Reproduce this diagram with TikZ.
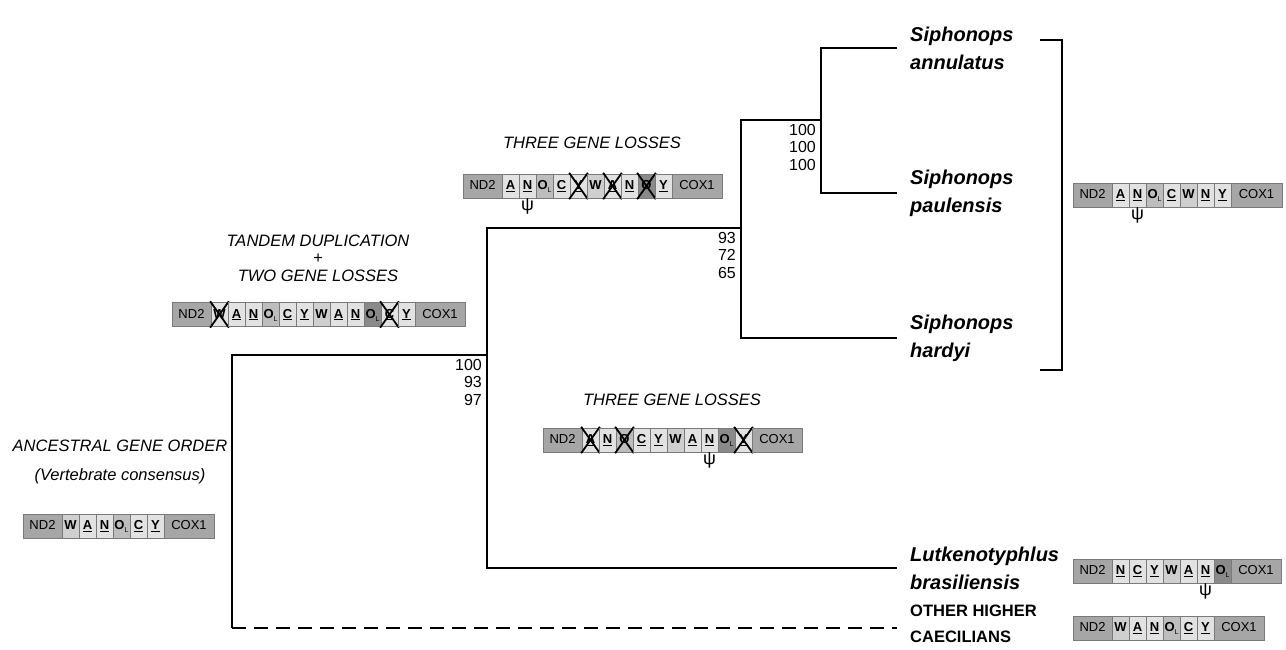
\documentclass[tikz,border=0pt]{standalone}
\usepackage{fontspec}
\setmainfont{Liberation Sans}
\definecolor{endc}{HTML}{A6A6A6}
\definecolor{lightc}{HTML}{E2E2E2}
\definecolor{wc}{HTML}{CFCFCF}
\definecolor{oc}{HTML}{BDBDBD}
\definecolor{darkc}{HTML}{8A8A8A}
\definecolor{cellline}{HTML}{7A7A7A}
\newcommand\subL{\raisebox{-3pt}{\fontsize{7}{7}\selectfont\mdseries L}}
\newcommand\ctkl[1]{\underline{#1}}
\newcommand\ctkw[1]{#1}
\newcommand\ctko[1]{O\subL}
\newcommand\ctkd[1]{O\subL}
\newcommand\ctkxl[1]{\underline{#1}}
\newcommand\ctkxw[1]{#1}
\newcommand\ctkxo[1]{O}
\newcommand\ctkxd[1]{O}
\tikzset{
  cellbase/.style={draw=cellline, line width=0.7pt, minimum height=24pt, inner sep=0pt, outer sep=0pt,
    text height=9.5pt, text depth=2.5pt, anchor=west},
  gc/.style={cellbase, minimum width=17pt, font=\fontsize{13}{13}\selectfont\bfseries},
  ec/.style={cellbase, fill=endc, font=\fontsize{13}{13}\selectfont},
  xline/.style={line width=1.8pt, draw=black, shorten <=-1.5pt, shorten >=-1.5pt},
  crossed/.style={append after command={(\tikzlastnode.north west) edge[xline] (\tikzlastnode.south east)
      (\tikzlastnode.north east) edge[xline] (\tikzlastnode.south west)}},
  kl/.style={fill=lightc}, kw/.style={fill=wc}, ko/.style={fill=oc}, kd/.style={fill=darkc},
  kxl/.style={fill=lightc, crossed}, kxw/.style={fill=lightc, crossed},
  kxo/.style={fill=oc, crossed}, kxd/.style={fill=darkc, crossed},
  psi/.style={anchor=north, inner sep=1pt, font=\fontsize{18}{18}\selectfont},
  branch/.style={line width=2.2pt, draw=black},
  bracketline/.style={line width=1.4pt, draw=black},
  leaf/.style={anchor=west, align=left, inner xsep=13pt, inner ysep=0pt,
    font=\fontsize{20}{28}\selectfont\bfseries\itshape},
  leafup/.style={anchor=west, align=left, inner xsep=13pt, inner ysep=0pt,
    font=\fontsize{16.5}{26}\selectfont\bfseries},
  boot/.style={anchor=north east, align=right, inner xsep=5pt, inner ysep=4pt,
    font=\fontsize{16}{17.5}\selectfont},
  evt/.style={align=center, inner sep=0pt, font=\fontsize{16.5}{17.5}\selectfont\itshape},
}
\newcommand\gbox[5]{%
  \node[ec, minimum width=39pt] (#1-nd) at (#2,#3) {ND2};
  \coordinate (#1-cur) at (#1-nd.east);
  \foreach \ck/\cl [count=\ci] in {#4}{
    \node[gc,\ck] (#1-\ci) at (#1-cur) {\csname ct\ck\endcsname{\cl}};
    \coordinate (#1-cur) at (#1-\ci.east);
  }
  \node[ec, minimum width=#5] (#1-cox) at (#1-cur) {COX1};
}
\begin{document}
\begin{tikzpicture}[x=1pt,y=-1pt]
\useasboundingbox (0,0) rectangle (1286,650);

% tree coordinates
\coordinate (r-top) at (232,355);
\coordinate (r-bot) at (232,628);
\coordinate (n3) at (487,355);
\coordinate (n3-top) at (487,228);
\coordinate (n3-bot) at (487,568);
\coordinate (n2) at (741,228);
\coordinate (n2-top) at (741,120);
\coordinate (n2-bot) at (741,338);
\coordinate (n1) at (821,120);
\coordinate (n1-top) at (821,48);
\coordinate (n1-bot) at (821,193);

% leaves
\node[leaf] (annul) at (897,48) {Siphonops\\annulatus};
\node[leaf] (paul) at (897,193) {Siphonops\\paulensis};
\node[leaf] (hardyi) at (897,338) {Siphonops\\hardyi};
\node[leaf] (lutk) at (897,568) {Lutkenotyphlus\\brasiliensis};
\node[leafup] (other) at (897,624) {OTHER HIGHER\\CAECILIANS};

% branches
\draw[branch] (annul.west) -- (n1-top) -- (n1-bot) -- (paul.west);
\draw[branch] (n1) -- (n2-top) -- (n2-bot) -- (hardyi.west);
\draw[branch] (n2) -- (n3-top) -- (n3-bot) -- (lutk.west);
\draw[branch] (n3) -- (r-top) -- (r-bot);
\draw[branch, dash pattern=on 14pt off 8pt] (r-bot) -- (other.west |- r-bot);

% bootstrap
\node[boot] (b1) at (n1) {100\\100\\100};
\node[boot] (b2) at (n2) {93\\72\\65};
\node[boot] (b3) at (n3) {100\\93\\97};

% bracket
\coordinate (br-a) at (1040,40);
\coordinate (br-b) at (1062,40);
\coordinate (br-c) at (1062,370);
\coordinate (br-d) at (1040,370);
\draw[bracketline] (br-a) -- (br-b) -- (br-c) -- (br-d);

% event labels
\node[evt] (tgl1) at (592,143) {THREE GENE LOSSES};
\node[evt] (tandem) at (318,258) {TANDEM DUPLICATION\\+\\TWO GENE LOSSES};
\node[evt] (tgl2) at (672,400) {THREE GENE LOSSES};
\node[evt, font=\fontsize{16.5}{29}\selectfont\itshape] (anc) at (120,462) {ANCESTRAL GENE ORDER\\(Vertebrate consensus)};

% gene boxes
\gbox{ga}{23}{526}{kw/W,kl/A,kl/N,ko/O,kl/C,kl/Y}{50pt}
\gbox{gt}{172}{314.5}{kxw/W,kl/A,kl/N,ko/O,kl/C,kl/Y,kw/W,kl/A,kl/N,kd/O,kxl/C,kl/Y}{50pt}
\gbox{gu}{463}{186}{kl/A,kl/N,ko/O,kl/C,kxl/Y,kw/W,kxl/A,kl/N,kxd/O,kl/Y}{50pt}
\gbox{gl}{543}{440}{kxl/A,kl/N,kxo/O,kl/C,kl/Y,kw/W,kl/A,kl/N,kd/O,kxl/Y}{50pt}
\gbox{gs}{1073}{195}{kl/A,kl/N,ko/O,kl/C,kw/W,kl/N,kl/Y}{51pt}
\gbox{gk}{1073}{571}{kl/N,kl/C,kl/Y,kw/W,kl/A,kl/N,kd/O}{50pt}
\gbox{go}{1073}{628}{kw/W,kl/A,kl/N,ko/O,kl/C,kl/Y}{50pt}

% pseudogene marks
\node[psi] (psi-u) at (gu-2.south) {ψ};
\node[psi] (psi-l) at (gl-8.south) {ψ};
\node[psi] (psi-s) at (gs-2.south) {ψ};
\node[psi] (psi-k) at (gk-6.south) {ψ};
\end{tikzpicture}
\end{document}
